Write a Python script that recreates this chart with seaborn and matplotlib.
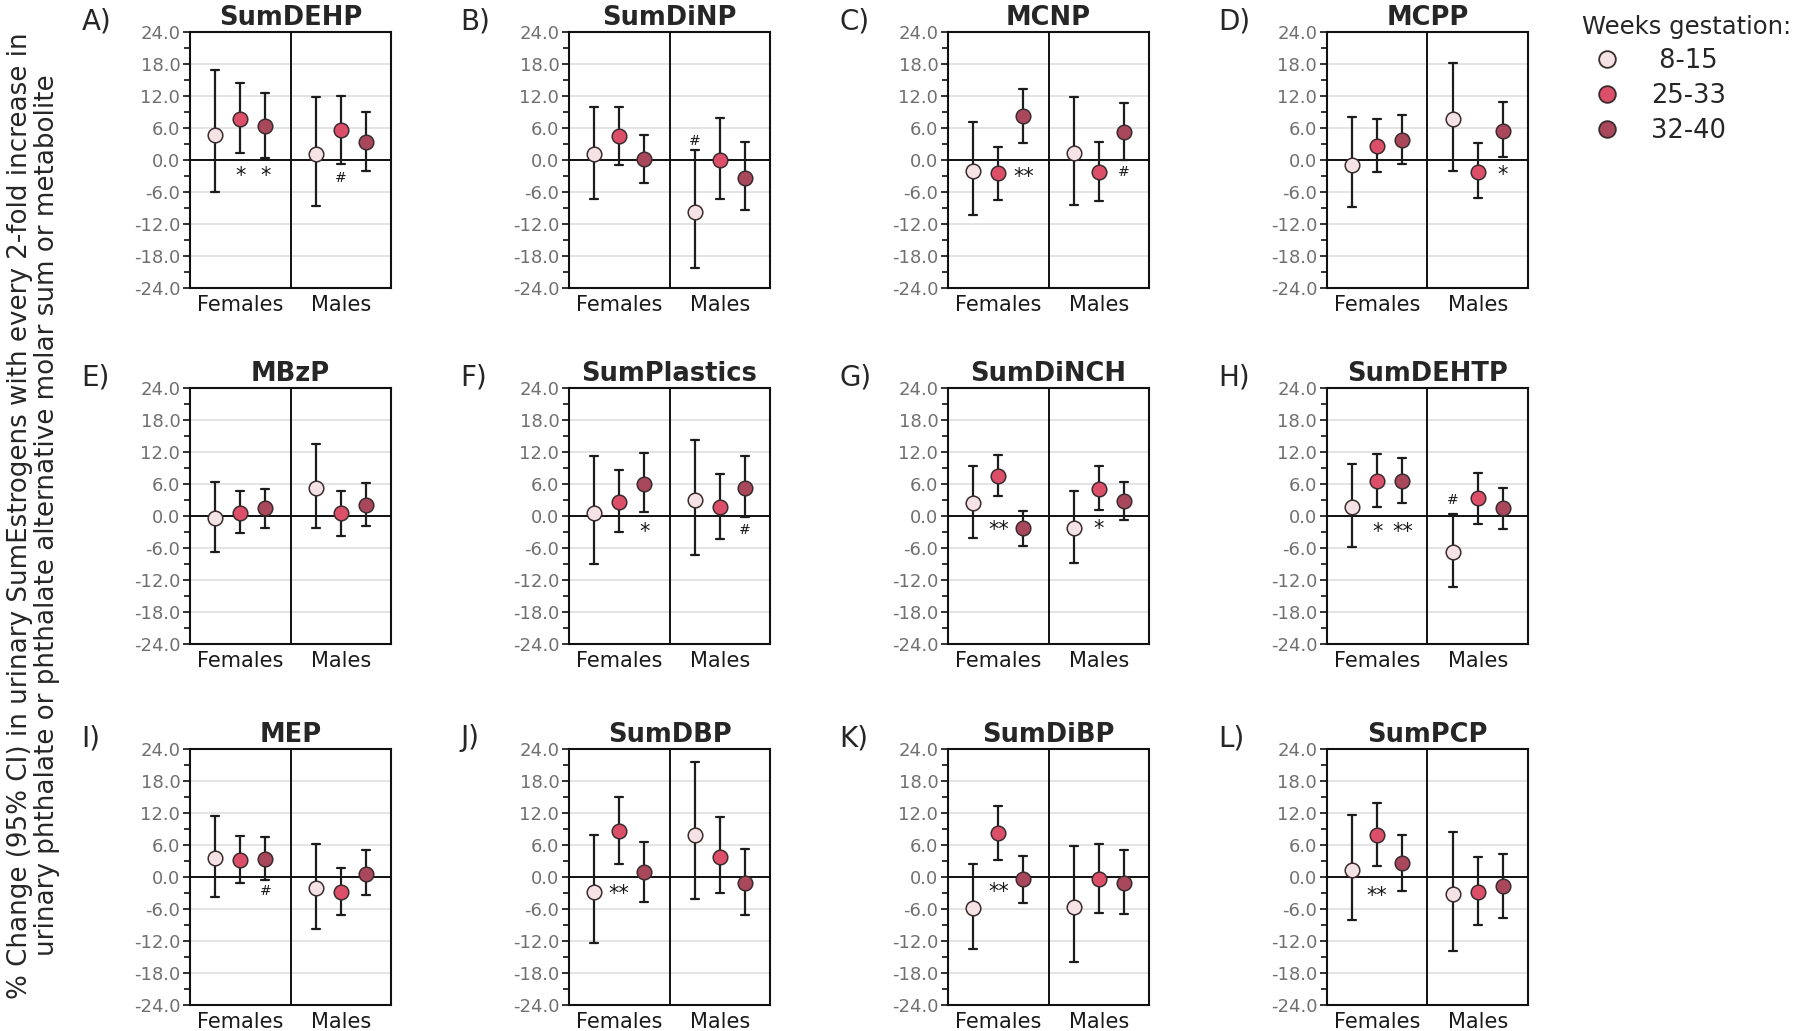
import matplotlib
matplotlib.use("Agg")
import matplotlib.pyplot as plt
import matplotlib.ticker as mtick
from matplotlib.lines import Line2D
import pandas as pd
import seaborn as sns

# panel order A..L
panel_letters = ["A)", "B)", "C)", "D)", "E)", "F)", "G)", "H)", "I)", "J)", "K)", "L)"]
panel_names = ["SumDEHP", "SumDiNP", "MCNP", "MCPP", "MBzP", "SumPlastics",
               "SumDiNCH", "SumDEHTP", "MEP", "SumDBP", "SumDiBP", "SumPCP"]
sexes = ["Females", "Males"]
weeks = ["8-15", "25-33", "32-40"]
week_colors = ["#f5e2e5", "#dc4f69", "#a9475b"]

# each row: F 8-15, F 25-33, F 32-40, M 8-15, M 25-33, M 32-40
estimate = [
    [4.75, 7.75, 6.3, 1.1, 5.6, 3.4],
    [1.2, 4.5, 0.1, -9.8, 0.05, -3.3],
    [-2.0, -2.5, 8.2, 1.3, -2.3, 5.25],
    [-0.9, 2.6, 3.7, 7.6, -2.2, 5.5],
    [-0.3, 0.6, 1.4, 5.3, 0.5, 2.1],
    [0.5, 2.6, 6.0, 2.9, 1.7, 5.25],
    [2.4, 7.5, -2.3, -2.3, 5.1, 2.8],
    [1.6, 6.5, 6.5, -6.7, 3.3, 1.4],
    [3.5, 3.25, 3.3, -2.1, -2.8, 0.6],
    [-2.9, 8.6, 0.9, 7.9, 3.8, -1.1],
    [-5.9, 8.2, -0.4, -5.6, -0.4, -1.1],
    [1.4, 7.8, 2.6, -3.2, -2.8, -1.75],
]
ci_low = [
    [-6.1, 1.25, 0.3, -8.7, -0.7, -2.1],
    [-7.25, -1.0, -4.25, -20.3, -7.4, -9.4],
    [-10.4, -7.5, 3.2, -8.4, -7.7, 0.0],
    [-8.9, -2.3, -0.8, -2.1, -7.2, 0.56],
    [-6.7, -3.2, -2.25, -2.3, -3.7, -1.8],
    [-9.1, -3.1, 0.7, -7.3, -4.4, -0.2],
    [-4.1, 3.7, -5.6, -8.8, 1.06, -0.8],
    [-5.9, 1.6, 2.4, -13.3, -1.5, -2.5],
    [-3.75, -1.1, -0.56, -9.8, -7.2, -3.4],
    [-12.4, 2.4, -4.7, -4.2, -3.0, -7.2],
    [-13.5, 3.2, -4.8, -15.9, -6.7, -6.9],
    [-8.0, 2.0, -2.6, -13.8, -9.0, -7.7],
]
ci_high = [
    [16.8, 14.5, 12.5, 11.8, 11.9, 8.9],
    [10.0, 10.0, 4.75, 1.8, 7.9, 3.3],
    [7.2, 2.5, 13.25, 11.8, 3.3, 10.6],
    [8.1, 7.75, 8.4, 18.25, 3.2, 10.8],
    [6.4, 4.6, 5.1, 13.5, 4.75, 6.1],
    [11.25, 8.6, 11.75, 14.25, 7.9, 11.25],
    [9.3, 11.5, 1.0, 4.6, 9.3, 6.4],
    [9.7, 11.6, 10.9, 0.4, 8.1, 5.3],
    [11.5, 7.6, 7.5, 6.1, 1.7, 5.0],
    [7.8, 15.0, 6.5, 21.5, 11.2, 5.3],
    [2.5, 13.4, 4.0, 5.8, 6.1, 5.0],
    [11.6, 13.8, 7.9, 8.5, 3.7, 4.3],
]
# significance marks: (panel, sex, week, symbol, y)
marks = [
    (0, 0, 1, "*", -3.1), (0, 0, 2, "*", -3.1), (0, 1, 1, "#", -3.3),
    (1, 1, 0, "#", 3.5),
    (2, 0, 2, "**", -3.2), (2, 1, 2, "#", -2.2),
    (3, 1, 2, "*", -2.8),
    (5, 0, 2, "*", -3.1), (5, 1, 2, "#", -2.7),
    (6, 0, 1, "**", -2.6), (6, 1, 1, "*", -2.5),
    (7, 0, 1, "*", -3.0), (7, 0, 2, "**", -3.0), (7, 1, 0, "#", 2.9),
    (8, 0, 2, "#", -2.7),
    (9, 0, 1, "**", -3.2),
    (10, 0, 1, "**", -2.9),
    (11, 0, 1, "**", -3.5),
]

# long table: low / estimate / high rows so the interval is min..max
rows = []
for p, name in enumerate(panel_names):
    for g, sex in enumerate(sexes):
        for w, wk in enumerate(weeks):
            i = g * 3 + w
            for v in (ci_low[p][i], estimate[p][i], ci_high[p][i]):
                rows.append({"panel": name, "sex": sex, "weeks": wk, "value": v})
df = pd.DataFrame(rows)

sns.set_style("white")
plt.rcParams["font.family"] = ["DejaVu Sans"]

fig = plt.figure(figsize=(18, 10.31), dpi=100)
lefts = [0.1056, 0.3161, 0.5267, 0.7372]
bottoms = [0.7207, 0.3754, 0.0252]
aw, ah = 0.1117, 0.2483
offsets = [-0.25, 0.0, 0.25]

for p, name in enumerate(panel_names):
    ax = fig.add_axes([lefts[p % 4], bottoms[p // 4], aw, ah])
    sub = df[df["panel"] == name]
    sns.pointplot(
        data=sub, x="sex", y="value", hue="weeks",
        order=sexes, hue_order=weeks, palette=week_colors,
        estimator="median", errorbar=lambda v: (v.min(), v.max()),
        dodge=0.5, linestyle="none", marker="o", markersize=10.5,
        markeredgecolor="#3a2c2f", markeredgewidth=1.1,
        capsize=0.08, err_kws={"color": "#1c1c1c", "linewidth": 1.6,
                                "linestyle": "-", "zorder": 2},
        zorder=3, legend=False, ax=ax,
    )
    ax.set_xlim(-0.5, 1.5)
    ax.set_ylim(-24, 24)
    ax.yaxis.set_major_locator(mtick.MultipleLocator(6))
    ax.yaxis.set_minor_locator(mtick.MultipleLocator(3))
    ax.yaxis.set_major_formatter(mtick.FuncFormatter(lambda v, pos: f"{v:.1f}"))
    ax.grid(axis="y", which="major", color="#e2e2e2", linewidth=1.3)
    ax.set_axisbelow(True)
    ax.axhline(0, color="#111111", linewidth=1.4, zorder=1.5)
    ax.axvline(0.5, color="#111111", linewidth=1.4, zorder=1.5)
    for sp in ax.spines.values():
        sp.set_color("#111111")
        sp.set_linewidth(1.5)
    ax.tick_params(axis="y", which="major", direction="out", length=5, width=1.2,
                   color="#111111", labelcolor="#707070", labelsize=13, pad=2, left=True)
    ax.tick_params(axis="y", which="minor", direction="out", length=4, width=1.2,
                   color="#111111", left=True)
    ax.tick_params(axis="x", length=0, labelsize=15, labelcolor="#1a1a1a", pad=5)
    ax.set_xlabel("")
    ax.set_ylabel("")
    ax.set_title(name, fontsize=18.5, fontweight="bold", pad=5)
    ax.text(-0.54, 1.01, panel_letters[p], transform=ax.transAxes,
            fontsize=20, ha="left", va="baseline")

for p, g, w, sym, y in marks:
    ax = fig.axes[p]
    size = 10 if sym == "#" else 15
    ax.text(g + offsets[w], y, sym, ha="center", va="center",
            fontsize=size, color="#1a1a1a", zorder=4)

fig.text(0.0185, 0.5,
         "% Change (95% CI) in urinary SumEstrogens with every 2-fold increase in\n"
         "urinary phthalate or phthalate alternative molar sum or metabolite",
         rotation=90, ha="center", va="center", fontsize=18.8, linespacing=1.05)

handles = [Line2D([], [], linestyle="none", marker="o", markersize=12,
                  markerfacecolor=c, markeredgecolor="#3a2c2f", markeredgewidth=1.3)
           for c in week_colors]
legend_labels = [" " + w if len(w) < 5 else w for w in weeks]
fig.legend(handles, legend_labels, title="Weeks gestation:", loc="upper left",
           bbox_to_anchor=(0.873, 0.995), frameon=False, fontsize=18.5,
           title_fontsize=17.5, alignment="left", handletextpad=0.7,
           labelspacing=0.35, borderaxespad=0)

fig.savefig("out.png", dpi=100)
